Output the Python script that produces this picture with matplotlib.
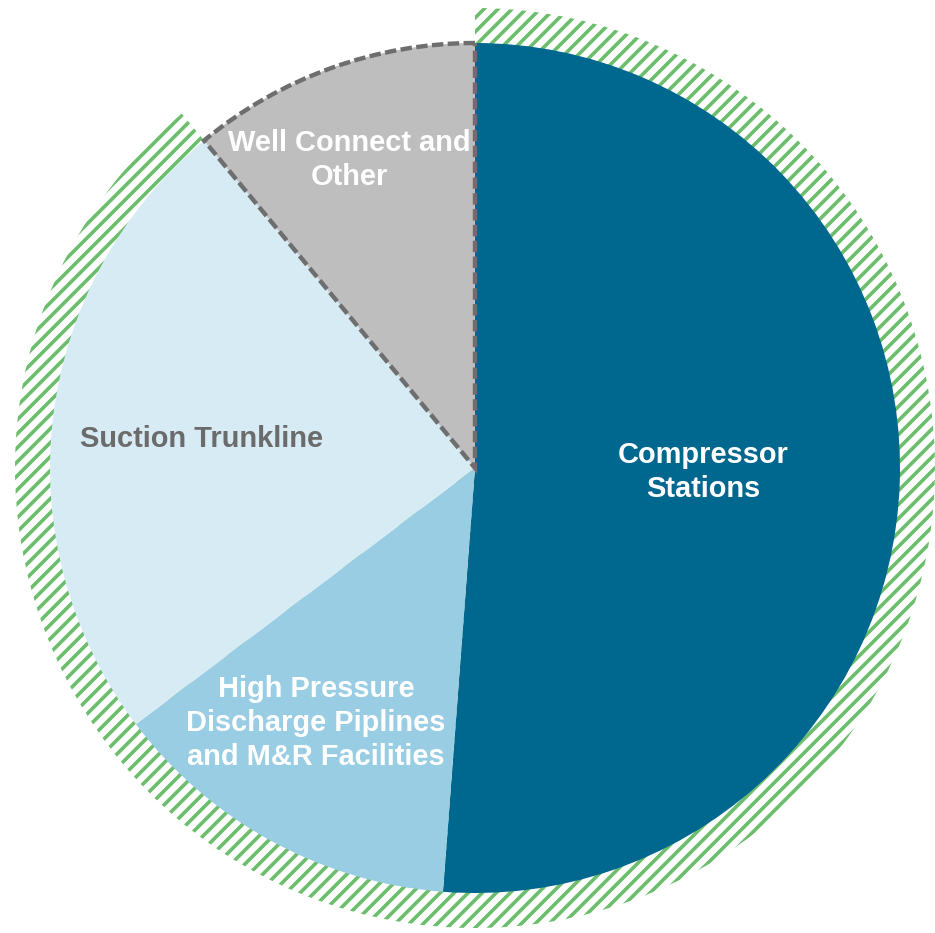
import matplotlib
matplotlib.use("Agg")
import matplotlib.pyplot as plt
import numpy as np
from matplotlib.patches import Wedge
from matplotlib.collections import LineCollection

categories = ["Compressor\nStations",
              "High Pressure\nDischarge Piplines\nand M&R Facilities",
              "Suction Trunkline",
              "Well Connect and\nOther"]
values = [51.2, 13.5, 24.3, 11.0]
colors = ["#00678f", "#99cde3", "#d6ebf4", "#bebebe"]
text_colors = ["white", "white", "#6b6b6b", "white"]
highlighted = [True, True, True, False]

DPI = 100
W, H = 935, 933
PX = 72 / DPI  # points per pixel
plt.rcParams['font.family'] = ['Liberation Sans', 'DejaVu Sans']

fig = plt.figure(figsize=(W / DPI, H / DPI), dpi=DPI)
ax = fig.add_axes([0, 0, 1, 1])

cx, cy = 475, H - 468
R = 425
R_outer = 460

total = sum(values)
hl_frac = sum(v for v, h in zip(values, highlighted) if h) / total
theta1 = 90 - 360 * hl_frac
ring = Wedge((cx, cy), R_outer, theta1, 90, facecolor='none',
             edgecolor='none', linewidth=0, zorder=0)
ax.add_patch(ring)

# diagonal hatch lines clipped to the highlight ring
step = 14.0
offs = np.arange(-2 * W, 2 * W, step)
segs = [[(-10, -10 + c), (W + H, W + H + c)] for c in offs]
lc = LineCollection(segs, colors='#6cbd6c', linewidths=3.6 * PX, zorder=0.5)
ax.add_collection(lc)
lc.set_clip_path(ring)

wedges, _ = ax.pie(values, colors=colors, startangle=90, counterclock=False,
                   center=(cx, cy), radius=R, frame=True,
                   wedgeprops=dict(linewidth=0))
ax.set_xlim(0, W)
ax.set_ylim(0, H)
ax.set_aspect('equal')
ax.axis('off')
for w in wedges:
    w.set_zorder(2)
gw = wedges[3]
gw.set_edgecolor('#6e6e6e')
gw.set_linewidth(4.4 * PX)
gw.set_linestyle((0, (2.6, 1.0)))
gw.set_zorder(3)

label_pos = [(703, 472), (316, 723), (202, 439), (349, 160)]
fs = 29 * PX
for lab, (x, y), tc in zip(categories, label_pos, text_colors):
    ax.text(x, H - y, lab, ha='center', va='center', color=tc,
            fontsize=fs, fontweight='bold', linespacing=1.27, zorder=5)

fig.savefig("out.png", dpi=DPI)
